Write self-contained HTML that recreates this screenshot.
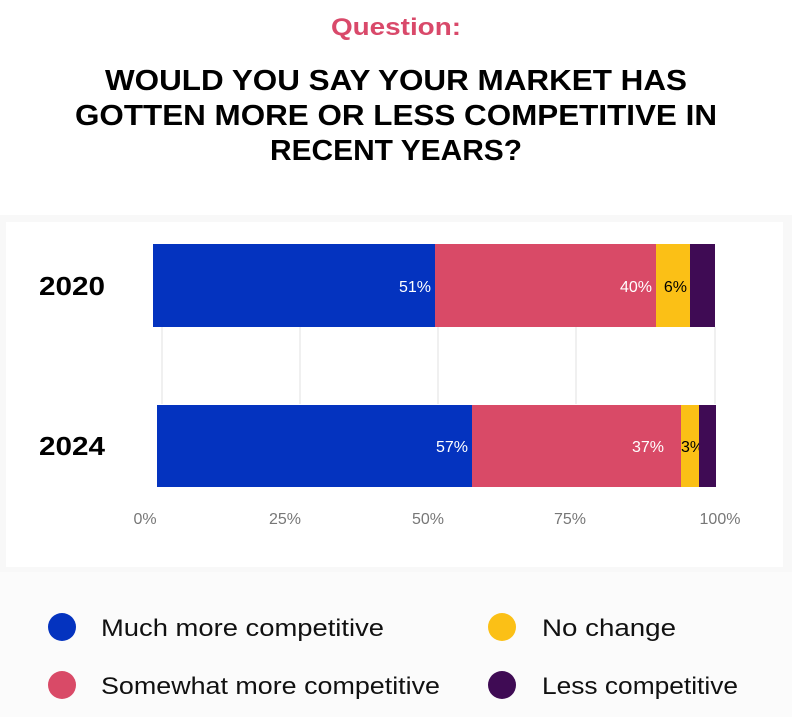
<!DOCTYPE html>
<html><head><meta charset="utf-8"><style>
body{margin:0;background:#fff;}
svg{display:block;}
</style></head><body>
<svg width="792" height="717" xmlns="http://www.w3.org/2000/svg" font-family="Liberation Sans, sans-serif">
<rect x="0" y="0" width="792" height="717" fill="#fff"/>
<rect x="0" y="570" width="792" height="147" fill="#fbfbfb"/>
<rect x="0" y="215" width="792" height="357" fill="#f8f8f8"/>
<rect x="6" y="222" width="777" height="345" fill="#fff"/>
<text x="396" y="35" text-anchor="middle" font-size="24" font-weight="bold" fill="#d9496a" textLength="130" lengthAdjust="spacingAndGlyphs">Question:</text>
<g font-size="29" font-weight="bold" fill="#000" text-anchor="middle">
<text x="396" y="90" textLength="582" lengthAdjust="spacingAndGlyphs">WOULD YOU SAY YOUR MARKET HAS</text>
<text x="396" y="125" textLength="642" lengthAdjust="spacingAndGlyphs">GOTTEN MORE OR LESS COMPETITIVE IN</text>
<text x="396" y="160" textLength="252" lengthAdjust="spacingAndGlyphs">RECENT YEARS?</text>
</g>
<g stroke="#e2e2e2" stroke-width="1">
<line x1="162" y1="327" x2="162" y2="404"/>
<line x1="300" y1="327" x2="300" y2="404"/>
<line x1="438" y1="327" x2="438" y2="404"/>
<line x1="576" y1="327" x2="576" y2="404"/>
<line x1="715" y1="327" x2="715" y2="404"/>
</g>
<rect x="153" y="244" width="282" height="83" fill="#0433bf"/>
<rect x="435" y="244" width="221" height="83" fill="#d94a67"/>
<rect x="656" y="244" width="34" height="83" fill="#fbc016"/>
<rect x="690" y="244" width="25" height="83" fill="#3f0b54"/>
<rect x="157" y="405" width="315" height="82" fill="#0433bf"/>
<rect x="472" y="405" width="209" height="82" fill="#d94a67"/>
<rect x="681" y="405" width="18" height="82" fill="#fbc016"/>
<g font-size="16" text-anchor="end">
<text x="431" y="292" fill="#fff">51%</text>
<text x="652" y="292" fill="#fff">40%</text>
<text x="687" y="292" fill="#000">6%</text>
<text x="468" y="452" fill="#fff">57%</text>
<text x="664" y="452" fill="#fff">37%</text>
</g>
<text x="681" y="452" font-size="16" fill="#000">3%</text>
<rect x="699" y="405" width="17" height="82" fill="#3f0b54"/>
<g font-size="26" font-weight="bold" fill="#000">
<text x="39" y="295" textLength="66" lengthAdjust="spacingAndGlyphs">2020</text>
<text x="39" y="455" textLength="66" lengthAdjust="spacingAndGlyphs">2024</text>
</g>
<g font-size="16" fill="#777" text-anchor="middle">
<text x="145" y="524">0%</text>
<text x="285" y="524">25%</text>
<text x="428" y="524">50%</text>
<text x="570" y="524">75%</text>
<text x="720" y="524">100%</text>
</g>
<circle cx="62" cy="627" r="14" fill="#0433bf"/>
<circle cx="62" cy="685" r="14" fill="#d94a67"/>
<circle cx="502" cy="627" r="14" fill="#fbc016"/>
<circle cx="502" cy="685" r="14" fill="#3f0b54"/>
<g font-size="24" fill="#111">
<text x="101" y="636" textLength="283" lengthAdjust="spacingAndGlyphs">Much more competitive</text>
<text x="101" y="694" textLength="339" lengthAdjust="spacingAndGlyphs">Somewhat more competitive</text>
<text x="542" y="636" textLength="134" lengthAdjust="spacingAndGlyphs">No change</text>
<text x="542" y="694" textLength="196" lengthAdjust="spacingAndGlyphs">Less competitive</text>
</g>
</svg>
</body></html>
